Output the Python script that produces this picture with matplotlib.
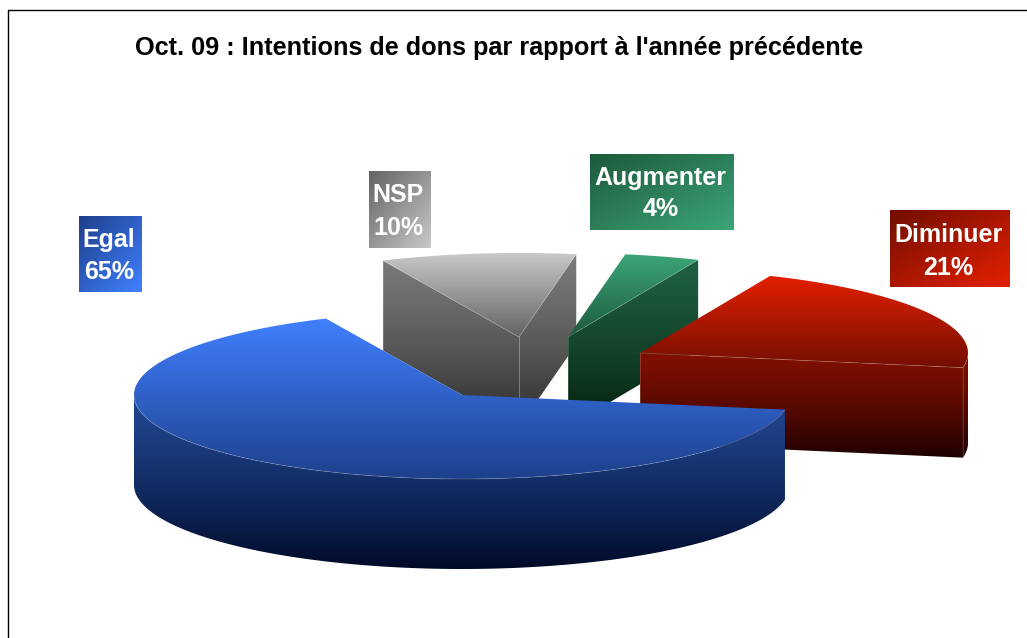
import numpy as np
import matplotlib
matplotlib.use("Agg")
import matplotlib.pyplot as plt
from matplotlib.colors import LinearSegmentedColormap
from matplotlib.patches import Polygon

plt.rcParams['font.family'] = ['Liberation Sans', 'DejaVu Sans']

title = "Oct. 09 : Intentions de dons par rapport à l'année précédente"
categories = ["Egal", "Diminuer", "Augmenter", "NSP"]
# slice sizes as measured on the picture, the labels are the rounded figures
shares = [65.4, 21.3, 3.7, 9.6]
percent_labels = ["65%", "21%", "4%", "10%"]

# colours per slice: top light, top dark, side light, side dark
colors_blue = ["#4080ff", "#1e408c", "#204690", "#000a28"]
colors_red = ["#e42000", "#720e00", "#801000", "#1e0000"]
colors_green = ["#3ca578", "#1c5a3c", "#1f6041", "#03200f"]
colors_gray = ["#c8c8c8", "#646464", "#7a7a7a", "#2c2c2c"]
slice_colors = [colors_blue, colors_red, colors_green, colors_gray]

# layout in pixels
centers = [(462, 395), (640, 353), (568, 337), (519, 337)]
boxes = [(79, 216, 142, 292), (890, 210, 1010, 287), (590, 154, 734, 230), (369, 171, 431, 248)]
text_rows = [(240, 272), (235, 268), (178, 209), (195, 228)]
rx, ry, depth = 328, 84, 90
start_angle = 114.5


def gradient(ax, points, c0, c1, y0, y1, power=1.0, x0=0, x1=1027):
    """Vertical gradient clipped to a polygon"""
    cmap = LinearSegmentedColormap.from_list("g", [c0, c1])
    data = (np.linspace(0, 1, 256) ** power).reshape(-1, 1)
    im = ax.imshow(data, cmap=cmap, extent=(x0, x1, y1, y0), aspect="auto",
                   interpolation="bilinear", zorder=ax.zcount)
    patch = Polygon(points, closed=True, transform=ax.transData, fc="none", ec="none")
    ax.add_patch(patch)
    im.set_clip_path(patch)
    ax.zcount += 1


def point(cx, cy, deg):
    t = np.radians(deg)
    return cx + rx * np.cos(t), cy - ry * np.sin(t)


def edge(ax, xs, ys):
    ax.plot(xs, ys, color="white", lw=0.6, alpha=0.2, zorder=ax.zcount)
    ax.zcount += 1


def draw_slice(ax, center, a, b, cols):
    cx, cy = center
    theta = np.linspace(a, b, 200)
    ax_x, ax_y = point(cx, cy, theta)
    top = np.vstack([[cx, cy], np.column_stack([ax_x, ax_y])])
    side_top = ax_y.min()
    side_bottom = cy + depth

    # outer wall, only the part that faces the viewer
    lo, hi = max(a, 180), min(b, 360)
    faces = []
    if hi > lo:
        arc = np.linspace(lo, hi, 200)
        wx, wy = point(cx, cy, arc)
        wall = np.vstack([np.column_stack([wx, wy]), np.column_stack([wx, wy + depth])[::-1]])
        faces.append(wall)
        side_bottom = (wy + depth).max()
        side_top = wy.min()

    # cut faces
    cuts = []
    if np.cos(np.radians(a)) > 0:
        cuts.append(a)
    if np.cos(np.radians(b)) < 0:
        cuts.append(b)
    for c in cuts:
        px, py = point(cx, cy, c)
        faces.append([(cx, cy), (px, py), (px, py + depth), (cx, cy + depth)])
        side_top = min(side_top, py) if lo >= hi else min(side_top, cy)

    for f in faces:
        gradient(ax, f, cols[2], cols[3], side_top, side_bottom, power=1.3)
    gradient(ax, top, cols[0], cols[1], ax_y.min(), max(cy, ax_y.max()))

    for f in faces:
        f = np.asarray(f)
        if len(f) == 4:
            edge(ax, f[[0, 3], 0], f[[0, 3], 1])
            edge(ax, f[[0, 1], 0], f[[0, 1], 1])
            edge(ax, f[[1, 2], 0], f[[1, 2], 1])
        else:
            edge(ax, f[:200, 0], f[:200, 1])


def label_box(ax, box, c0, c1):
    x0, y0, x1, y1 = box
    cmap = LinearSegmentedColormap.from_list("b", [c0, c1])
    yy, xx = np.mgrid[0:1:64j, 0:1:64j]
    ax.imshow((xx + yy) / 2, cmap=cmap, extent=(x0, x1, y1, y0), aspect="auto",
              interpolation="bilinear", zorder=50)


fig = plt.figure(figsize=(10.27, 6.38), dpi=100)
ax = fig.add_axes([0, 0, 1, 1])
ax.zcount = 2

# angle of each slice comes from its share
bounds = start_angle + np.cumsum([0] + shares) * 3.6

# back to front
for i in [3, 2, 1, 0]:
    draw_slice(ax, centers[i], bounds[i], bounds[i + 1], slice_colors[i])

for i, name in enumerate(categories):
    cols = slice_colors[i]
    label_box(ax, boxes[i], cols[1], cols[0])
    xc = (boxes[i][0] + boxes[i][2]) / 2 - 1.5
    ax.text(xc, text_rows[i][0], name, color="white", fontsize=18, fontweight="bold",
            ha="center", va="center", zorder=60)
    ax.text(xc, text_rows[i][1], percent_labels[i], color="white", fontsize=18,
            fontweight="bold", ha="center", va="center", zorder=60)

ax.text(499, 48.5, title, color="black", fontsize=18.15, fontweight="bold",
        ha="center", va="center", zorder=60)

# frame of the slide
ax.plot([7.5, 7.5, 1027], [638, 9.5, 9.5], color="black", lw=1.0, zorder=70)

ax.set_xlim(0, 1027)
ax.set_ylim(638, 0)
ax.axis("off")
fig.savefig("out.png", dpi=100, facecolor="white")
